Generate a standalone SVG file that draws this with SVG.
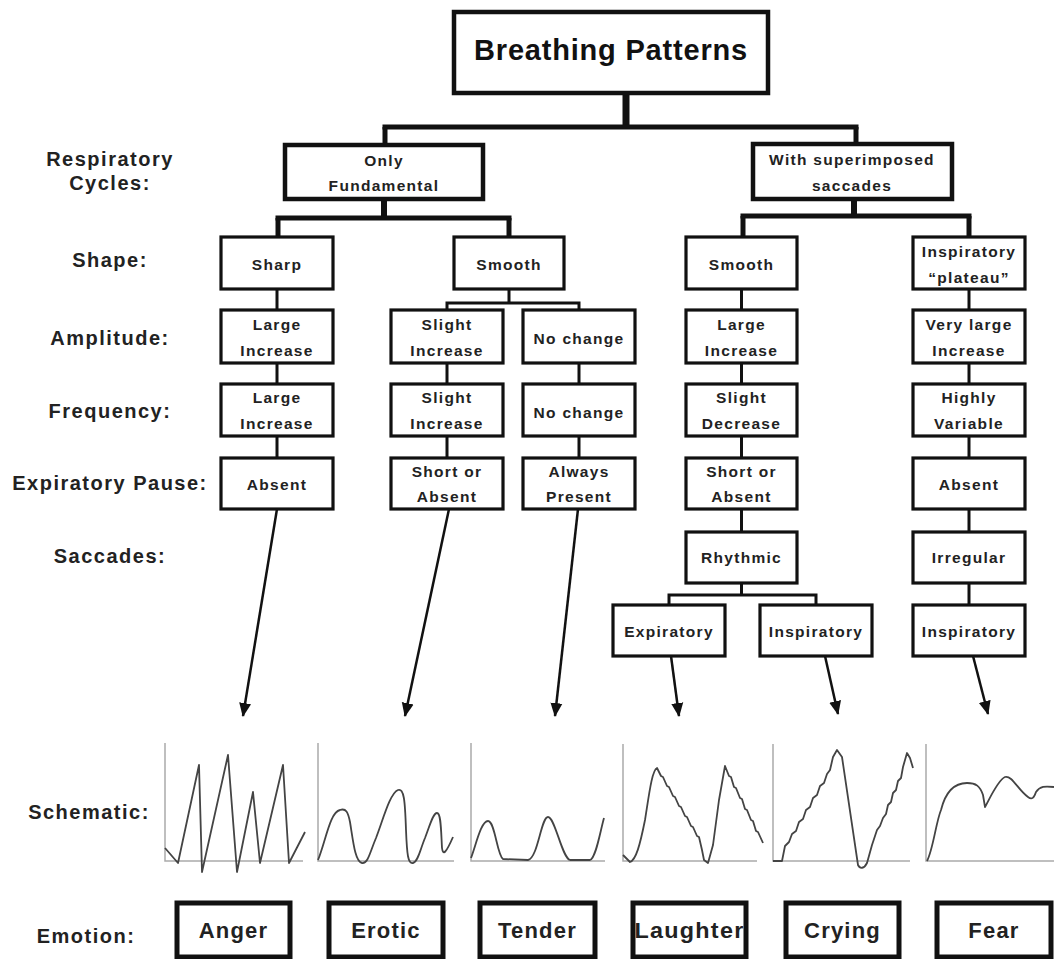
<svg xmlns="http://www.w3.org/2000/svg" width="1054" height="959" viewBox="0 0 1054 959">
<style>
  text{font-family:"Liberation Sans",Arial,sans-serif;font-weight:bold;fill:#222;text-anchor:middle}
  .lbl{font-size:20px;letter-spacing:1.5px}
  .bt{font-size:15.5px;letter-spacing:1.3px}
  .title{font-size:29px;letter-spacing:0.8px;fill:#111}
  .em{font-size:22px;letter-spacing:1.2px}
  .box{fill:#fff;stroke:#111;stroke-width:3.2}
  .tbox{fill:#fff;stroke:#111;stroke-width:4.5}
  .ebox{fill:#fff;stroke:#111;stroke-width:5}
  .thin{stroke:#111;stroke-width:3;fill:none}
  .thick{stroke:#111;stroke-width:5;fill:none}
  .arr{stroke:#111;stroke-width:2.5;fill:none;marker-end:url(#ah)}
  .axis{stroke:#aaa;stroke-width:1.5;fill:none}
  .wave{stroke:#444;stroke-width:1.8;fill:none;stroke-linejoin:round}
</style>
<defs>
  <marker id="ah" markerUnits="userSpaceOnUse" markerWidth="14" markerHeight="14" viewBox="0 0 14 12" refX="13" refY="6" orient="auto">
    <path d="M0,0 L14,6 L0,12 Z" fill="#111"/>
  </marker>
</defs>
<rect width="1054" height="959" fill="#fff"/>

<g id="labels">
  <text class="lbl" x="110" y="166">Respiratory</text>
  <text class="lbl" x="110" y="190">Cycles:</text>
  <text class="lbl" x="110" y="267">Shape:</text>
  <text class="lbl" x="110" y="345">Amplitude:</text>
  <text class="lbl" x="110" y="418">Frequency:</text>
  <text class="lbl" x="110" y="490">Expiratory Pause:</text>
  <text class="lbl" x="110" y="563">Saccades:</text>
  <text class="lbl" x="89" y="819">Schematic:</text>
  <text class="lbl" x="86" y="943">Emotion:</text>
</g>

<g id="connectors">
  <line class="thick" x1="626" y1="93" x2="626" y2="127" style="stroke-width:7"/>
  <line class="thick" x1="382.5" y1="127" x2="858.5" y2="127"/>
  <line class="thick" x1="385" y1="127" x2="385" y2="145"/>
  <line class="thick" x1="856" y1="127" x2="856" y2="144"/>
  <line class="thick" x1="384" y1="199" x2="384" y2="218" style="stroke-width:6"/>
  <line class="thick" x1="275.5" y1="218" x2="511.5" y2="218"/>
  <line class="thick" x1="278" y1="218" x2="278" y2="237"/>
  <line class="thick" x1="509" y1="218" x2="509" y2="237"/>
  <line class="thick" x1="854" y1="199" x2="854" y2="216" style="stroke-width:6"/>
  <line class="thick" x1="740.5" y1="216" x2="971.5" y2="216"/>
  <line class="thick" x1="743" y1="216" x2="743" y2="237"/>
  <line class="thick" x1="969" y1="216" x2="969" y2="237"/>

  <path class="thin" d="M277,289V310M277,363V384M277,436V458"/>
  <path class="thin" d="M509,289V303M447,310V303H579V310"/>
  <path class="thin" d="M447,363V384M447,436V458"/>
  <path class="thin" d="M579,363V384M579,436V458"/>
  <path class="thin" d="M741.5,289V310M741.5,363V384M741.5,436V458M741.5,509V532M741.5,583V595M669,605V595H816V605"/>
  <path class="thin" d="M969,289V310M969,363V384M969,436V458M969,509V532M969,583V605"/>

  <line class="arr" x1="277" y1="509" x2="243" y2="716"/>
  <line class="arr" x1="449" y1="509" x2="405" y2="716"/>
  <line class="arr" x1="578" y1="509" x2="555" y2="716"/>
  <line class="arr" x1="671" y1="656" x2="679" y2="716"/>
  <line class="arr" x1="825" y1="656" x2="838" y2="714"/>
  <line class="arr" x1="973" y1="656" x2="988" y2="714"/>
</g>

<g id="n-title"><rect class="box" style="stroke-width:4.5" x="454" y="12" width="314" height="81"/><text class="title" x="611" y="60">Breathing Patterns</text></g>
<g id="n-fund"><rect class="tbox" x="285" y="145" width="198" height="54"/><text class="bt" x="384" y="166">Only</text><text class="bt" x="384" y="191">Fundamental</text></g>
<g id="n-super"><rect class="tbox" x="753" y="144" width="199" height="55"/><text class="bt" x="852" y="165">With superimposed</text><text class="bt" x="852" y="191">saccades</text></g>

<g id="n-sharp"><rect class="box" x="221" y="237" width="112" height="52"/><text class="bt" x="277" y="270">Sharp</text></g>
<g id="n-a-amp"><rect class="box" x="221" y="310" width="112" height="53"/><text class="bt" x="277" y="330">Large</text><text class="bt" x="277" y="356">Increase</text></g>
<g id="n-a-freq"><rect class="box" x="221" y="384" width="112" height="52"/><text class="bt" x="277" y="403">Large</text><text class="bt" x="277" y="429">Increase</text></g>
<g id="n-a-pause"><rect class="box" x="221" y="458" width="112" height="51"/><text class="bt" x="277" y="490">Absent</text></g>

<g id="n-smooth1"><rect class="box" x="454" y="237" width="110" height="52"/><text class="bt" x="509" y="270">Smooth</text></g>
<g id="n-b-amp"><rect class="box" x="391" y="310" width="112" height="53"/><text class="bt" x="447" y="330">Slight</text><text class="bt" x="447" y="356">Increase</text></g>
<g id="n-b-freq"><rect class="box" x="391" y="384" width="112" height="52"/><text class="bt" x="447" y="403">Slight</text><text class="bt" x="447" y="429">Increase</text></g>
<g id="n-b-pause"><rect class="box" x="391" y="458" width="112" height="51"/><text class="bt" x="447" y="477">Short or</text><text class="bt" x="447" y="502">Absent</text></g>
<g id="n-c-amp"><rect class="box" x="523" y="310" width="112" height="53"/><text class="bt" x="579" y="344">No change</text></g>
<g id="n-c-freq"><rect class="box" x="523" y="384" width="112" height="52"/><text class="bt" x="579" y="418">No change</text></g>
<g id="n-c-pause"><rect class="box" x="523" y="458" width="112" height="51"/><text class="bt" x="579" y="477">Always</text><text class="bt" x="579" y="502">Present</text></g>

<g id="n-smooth2"><rect class="box" x="686" y="237" width="111" height="52"/><text class="bt" x="741.5" y="270">Smooth</text></g>
<g id="n-d-amp"><rect class="box" x="686" y="310" width="111" height="53"/><text class="bt" x="741.5" y="330">Large</text><text class="bt" x="741.5" y="356">Increase</text></g>
<g id="n-d-freq"><rect class="box" x="686" y="384" width="111" height="52"/><text class="bt" x="741.5" y="403">Slight</text><text class="bt" x="741.5" y="429">Decrease</text></g>
<g id="n-d-pause"><rect class="box" x="686" y="458" width="111" height="51"/><text class="bt" x="741.5" y="477">Short or</text><text class="bt" x="741.5" y="502">Absent</text></g>
<g id="n-rhythmic"><rect class="box" x="686" y="532" width="111" height="51"/><text class="bt" x="741.5" y="563">Rhythmic</text></g>
<g id="n-expir"><rect class="box" x="613" y="605" width="112" height="51"/><text class="bt" x="669" y="637">Expiratory</text></g>
<g id="n-inspir1"><rect class="box" x="760" y="605" width="112" height="51"/><text class="bt" x="816" y="637">Inspiratory</text></g>

<g id="n-plateau"><rect class="box" x="913" y="237" width="112" height="52"/><text class="bt" x="969" y="257">Inspiratory</text><text class="bt" x="969" y="283">“plateau”</text></g>
<g id="n-e-amp"><rect class="box" x="913" y="310" width="112" height="53"/><text class="bt" x="969" y="330">Very large</text><text class="bt" x="969" y="356">Increase</text></g>
<g id="n-e-freq"><rect class="box" x="913" y="384" width="112" height="52"/><text class="bt" x="969" y="403">Highly</text><text class="bt" x="969" y="429">Variable</text></g>
<g id="n-e-pause"><rect class="box" x="913" y="458" width="112" height="51"/><text class="bt" x="969" y="490">Absent</text></g>
<g id="n-irregular"><rect class="box" x="913" y="532" width="112" height="51"/><text class="bt" x="969" y="563">Irregular</text></g>
<g id="n-inspir2"><rect class="box" x="913" y="605" width="112" height="51"/><text class="bt" x="969" y="637">Inspiratory</text></g>

<g id="schematics">
  <path class="axis" d="M165,743V861H303M318,743V861H454M471,743V861H605M623,744V861H757M773,744V861H910M926,744V861H1054"/>
  <path class="wave" d="M165,848 L178,863 L199,765 L202,872 L228,755 L237,872 L253,792 L260,863 L283,765 L289,863 L305,832"/>
  <path class="wave" d="M318,860 C326,840 330,812 340,810 C346,808 348,812 350,822 C353,840 355,862 362,863 C368,864 370,852 376,838 C383,820 390,793 398,790 C404,788 405,800 406,830 C407,855 408,864 413,863 C418,862 420,850 425,838 C430,825 433,813 437,813 C441,813 441,830 442,848 C443,856 446,853 453,837"/>
  <path class="wave" d="M471,858 C476,845 481,821 488,821 C495,821 497,855 503,859 L528,860 C538,858 541,817 548,817 C555,817 562,858 570,860 L590,860 C596,858 600,832 604,818"/>
  <path class="wave" d="M623,855 L630,862 C636,860 640,845 645,820 C649,795 652,770 657,768 L661,776 L663,777 L667,786 L669,787 L673,796 L675,797 L679,806 L681,807 L685,816 L687,817 L691,826 L693,827 L697,836 L699,837 L702,850 L704,860 L708,863 L713,845 L719,800 L725,766 L729,776 L731,777 L734,787 L736,788 L740,798 L742,799 L745,809 L747,810 L751,820 L753,821 L756,831 L758,832 L763,843"/>
  <path class="wave" d="M773,861 L782,861 L785,846 L789,842 L792,834 L796,831 L799,822 L803,819 L806,810 L810,807 L813,798 L817,795 L820,786 L824,783 L827,774 L830,770 L833,757 L837,750 L842,757 L858,865 C860,869 864,869 867,863 L872,845 L877,830 L880,826 L883,818 L886,814 L888,805 L891,802 L893,793 L896,790 L898,781 L901,778 L903,767 L907,753 L910,758 L913,768"/>
  <path class="wave" d="M927,861 C933,850 936,822 941,810 C946,790 955,783 967,783 C976,783 980,786 983,795 L985,807 C990,798 998,780 1005,777 C1012,775 1018,790 1028,797 C1032,800 1034,798 1036,792 C1040,786 1045,786 1054,787"/>
</g>

<g id="n-anger"><rect class="ebox" x="177" y="903" width="113" height="54"/><text class="em" x="233.5" y="938">Anger</text></g>
<g id="n-erotic"><rect class="ebox" x="329" y="903" width="114" height="54"/><text class="em" x="386" y="938">Erotic</text></g>
<g id="n-tender"><rect class="ebox" x="480" y="903" width="115" height="54"/><text class="em" x="537.5" y="938">Tender</text></g>
<g id="n-laughter"><rect class="ebox" x="633" y="903" width="113" height="54"/><text class="em" x="689.5" y="938" textLength="110" lengthAdjust="spacingAndGlyphs">Laughter</text></g>
<g id="n-crying"><rect class="ebox" x="786" y="903" width="113" height="54"/><text class="em" x="842.5" y="938">Crying</text></g>
<g id="n-fear"><rect class="ebox" x="937" y="903" width="114" height="54"/><text class="em" x="994" y="938">Fear</text></g>
</svg>
